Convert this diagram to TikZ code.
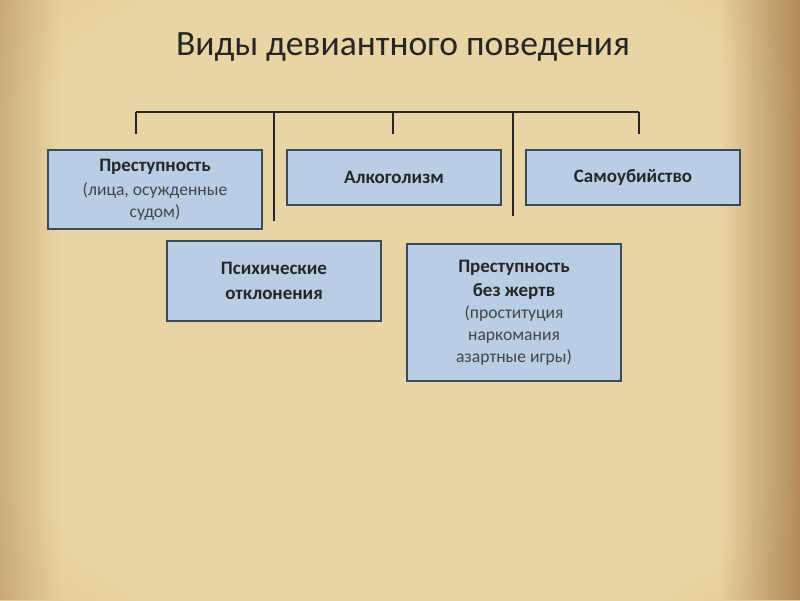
\documentclass[tikz,border=0pt]{standalone}
\usepackage{fontspec}
\setmainfont{Carlito}
\usetikzlibrary{positioning,fadings}

\definecolor{paper}{HTML}{E9D5A4}
\definecolor{papermid}{HTML}{D8BA82}
\definecolor{paperdark}{HTML}{AE8246}
\definecolor{paperedge}{HTML}{9A6E3C}
\definecolor{boxfill}{HTML}{B9CDE5}
\definecolor{boxline}{HTML}{3C4B5A}
\definecolor{notegray}{HTML}{454545}
\newcommand{\subline}[1]{{\mdseries\fontsize{12.5}{15}\selectfont\color{notegray}#1}}
\pgfdeclareradialshading{paperglow}{\pgfpoint{0bp}{0bp}}{color(0bp)=(paper); color(24bp)=(paper); color(40bp)=(papermid); color(50bp)=(paperdark)}

\begin{document}
\begin{tikzpicture}[x=0.025cm,y=-0.025cm,
    kind/.style={draw=boxline,line width=1.3pt,fill=boxfill,minimum width=5.35cm,
      align=center,font=\fontsize{13.5}{17.5}\selectfont\bfseries,text=black!85},
    link/.style={line width=1pt,draw=black!85}]
  \useasboundingbox (0,0) rectangle (800,600);
  % parchment
  \shade[shading=paperglow] (-60,-60) rectangle (860,660);
  \fill[paperedge,path fading=west,opacity=.7] (720,0) rectangle (800,600);
  \fill[paperedge,path fading=east,opacity=.35] (0,0) rectangle (60,600);

  \node[font=\fontsize{25.3}{30}\selectfont,text=black!85] (title) at (403,47) {Виды девиантного поведения};

  \node[kind,minimum height=1.975cm] (crime) at (155,189.5)
    {Преступность\\[0pt]\subline{(лица, осужденные}\\[-2pt]\subline{судом)}};
  \node[kind,minimum height=1.375cm] (alco) at (394,177.5) {Алкоголизм};
  \node[kind,minimum height=1.375cm] (suicide) at (633,177.5) {Самоубийство};
  \node[kind,minimum height=2cm] (psych) at (274,281) {Психические\\отклонения};
  \node[kind,minimum height=3.425cm] (victimless) at (514,312.5)
    {Преступность\\без жертв\\[-2pt]\subline{(проституция}\\[-2pt]\subline{наркомания}\\[-2pt]\subline{азартные игры)}};

  \foreach \x/\tgt/\gap in {136/crime/.375cm, 393/alco/.375cm, 639/suicide/.375cm, 274/psych/.475cm, 513/victimless/.675cm} {
    \coordinate (d-\tgt) at (\x,112);
    \draw[link,shorten >=\gap] (d-\tgt) -- (d-\tgt |- \tgt.north);
  }
  \draw[link] (d-crime) -- (d-suicide);
\end{tikzpicture}
\end{document}
